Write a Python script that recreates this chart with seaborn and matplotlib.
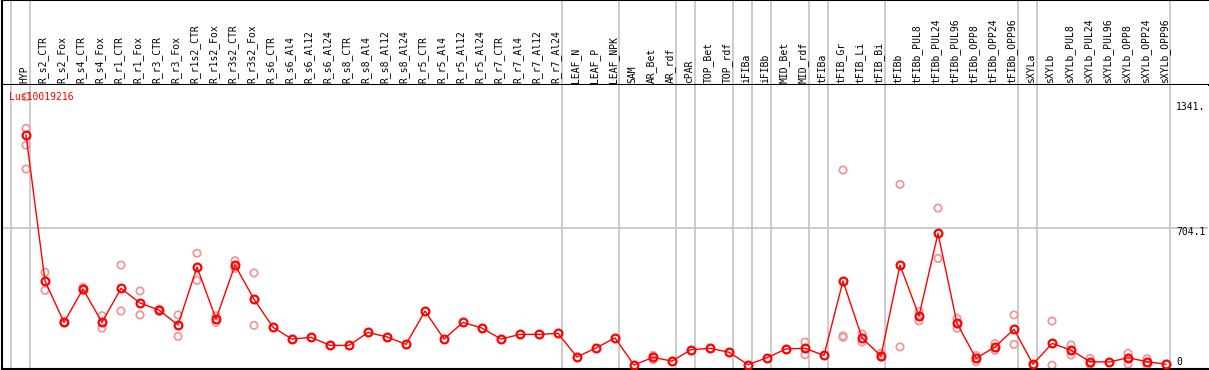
import numpy as np
import pandas as pd
import matplotlib
matplotlib.use("Agg")
import matplotlib.pyplot as plt
import seaborn as sns

gene = "Lus10019216"

samples = [
    "HYP", "R_s2_CTR", "R_s2_Fox", "R_s4_CTR", "R_s4_Fox", "R_r1_CTR", "R_r1_Fox",
    "R_r3_CTR", "R_r3_Fox", "R_r1s2_CTR", "R_r1s2_Fox", "R_r3s2_CTR", "R_r3s2_Fox",
    "R_s6_CTR", "R_s6_Al4", "R_s6_Al12", "R_s6_Al24", "R_s8_CTR", "R_s8_Al4",
    "R_s8_Al12", "R_s8_Al24", "R_r5_CTR", "R_r5_Al4", "R_r5_Al12", "R_r5_Al24",
    "R_r7_CTR", "R_r7_Al4", "R_r7_Al12", "R_r7_Al24", "LEAF_N", "LEAF_P", "LEAF_NPK",
    "SAM", "AR_Bet", "AR_rdf", "cPAR", "TOP_Bet", "TOP_rdf", "iFIBa", "iFIBb",
    "MID_Bet", "MID_rdf", "tFIBa", "tFIB_Gr", "tFIB_Li", "tFIB_Bi", "tFIBb",
    "tFIBb_PUL8", "tFIBb_PUL24", "tFIBb_PUL96", "tFIBb_OPP8", "tFIBb_OPP24",
    "tFIBb_OPP96", "sXYLa", "sXYLb", "sXYLb_PUL8", "sXYLb_PUL24", "sXYLb_PUL96",
    "sXYLb_OPP8", "sXYLb_OPP24", "sXYLb_OPP96",
]

mean_expr = [
    1176, 433, 222, 392, 222, 395, 321, 285, 209, 504, 239, 514, 340,
    197, 137, 146, 105, 105, 171, 148, 110, 280, 137, 222, 193,
    137, 161, 161, 166, 46, 92, 143,
    5, 44, 25, 83, 90, 70, 7, 42,
    87, 90, 54, 433, 143, 51, 514,
    255, 675, 217, 39, 97, 187,
    9, 115, 81, 22, 20, 42, 22, 9,
]

replicates = {
    "HYP": [1371, 1210, 1125, 1003],
    "R_s2_CTR": [477, 385],
    "R_s2_Fox": [224, 220],
    "R_s4_CTR": [400, 387],
    "R_s4_Fox": [256, 193],
    "R_r1_CTR": [514, 280],
    "R_r1_Fox": [382, 260],
    "R_r3_CTR": [288, 280],
    "R_r3_Fox": [260, 151],
    "R_r1s2_CTR": [574, 436],
    "R_r1s2_Fox": [256, 222],
    "R_r3s2_CTR": [536, 497],
    "R_r3s2_Fox": [474, 207],
    "AR_Bet": [54, 32],
    "MID_rdf": [122, 58],
    "tFIB_Gr": [998, 153, 146],
    "tFIB_Li": [163, 122],
    "tFIB_Bi": [65, 45],
    "tFIBb": [925, 97],
    "tFIBb_PUL8": [277, 229],
    "tFIBb_PUL24": [804, 548],
    "tFIBb_PUL96": [243, 192],
    "tFIBb_OPP8": [53, 22],
    "tFIBb_OPP24": [114, 80],
    "tFIBb_OPP96": [260, 110],
    "sXYLb": [229, 4],
    "sXYLb_PUL8": [107, 56],
    "sXYLb_PUL24": [39, 9],
    "sXYLb_OPP8": [65, 10],
    "sXYLb_OPP24": [37, 3],
}

# sample groups separated by vertical lines
group_sizes = [1, 28, 3, 3, 1, 2, 1, 1, 2, 1, 3, 7, 1, 7]

y_ticks = [1341.0, 704.1, 0]
y_tick_labels = ["1341.", "704.1", "0"]

df = pd.DataFrame({"idx": np.arange(len(samples)), "sample": samples, "expr": mean_expr})
rep_rows = [(samples.index(s), v) for s, vals in replicates.items() for v in vals]
rep_df = pd.DataFrame(rep_rows, columns=["idx", "expr"])

W, H = 1209, 370
fig = plt.figure(figsize=(W / 100, H / 100), dpi=100)
left, right = 2 / W, 1208 / W
head_bot, plot_bot = 85, 369
ax_head = fig.add_axes([left, 1 - head_bot / H, right - left, head_bot / H])
ax = fig.add_axes([left, 1 - plot_bot / H, right - left, (plot_bot - head_bot) / H], sharex=ax_head)

# pixel scale of the original: x = 26 + 19*i, y = 366 - 0.1964*value
x0, dx, y0, dy = 26, 19.0, 366, 0.1964
ax.set_xlim((2 - x0) / dx, (1208 - x0) / dx)
ax.set_ylim((y0 - plot_bot) / dy, (y0 - head_bot) / dy)

grid_c = "#c4c4c4"
ends = np.cumsum([0] + group_sizes) - 1
for e in ends:
    for a in (ax, ax_head):
        a.axvline(e + 0.22, color=grid_c, lw=1.2, zorder=0)
ax.axhline(704.1, color=grid_c, lw=1.2, zorder=0)

sns.scatterplot(data=rep_df, x="idx", y="expr", ax=ax, marker="o", s=28,
                facecolor="none", edgecolor="#f09898", linewidth=1.3, zorder=2, legend=False)
sns.lineplot(data=df, x="idx", y="expr", ax=ax, color="#ff0000", lw=1.0,
             marker="o", markersize=5.6, markerfacecolor="none", markeredgecolor="#ff0000",
             markeredgewidth=1.6, zorder=3, legend=False)

mono = "DejaVu Sans Mono"
ax.text(9 / W, 1 - 97 / H, gene, transform=fig.transFigure, color="#ff0000",
        fontsize=7, family=mono, va="center", ha="left", zorder=5)

for val, lab in zip(y_ticks, y_tick_labels):
    y_px = 362 if val == 0 else y0 - val * dy + 4
    fig.text(1176 / W, 1 - y_px / H, lab, fontsize=7, family=mono, va="center", ha="left")

ax_head.set_ylim(0, 1)
for i, s in enumerate(samples):
    ax_head.text(i - 0.1, 0.025, s, rotation=90, ha="center", va="bottom",
                 fontsize=7, family=mono)

for a in (ax, ax_head):
    a.set_xticks([])
    a.set_yticks([])
    a.set_xlabel("")
    a.set_ylabel("")
    a.spines["right"].set_visible(False)
    for sp in ("left", "top", "bottom"):
        a.spines[sp].set_linewidth(1.5)
        a.spines[sp].set_color("black")
ax.spines["top"].set_visible(False)

fig.savefig("out.png", dpi=100)
